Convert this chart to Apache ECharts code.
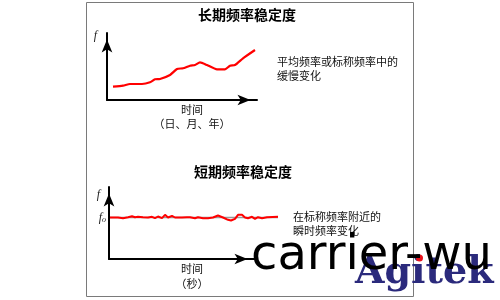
<!DOCTYPE html>
<html><head><meta charset="utf-8">
<script src="https://cdn.jsdelivr.net/npm/echarts@6/dist/echarts.min.js"></script>
<style>html,body{margin:0;padding:0;background:#fff}#c{width:500px;height:300px}</style>
</head><body><div id="c"></div>
<script>
// Long-term frequency stability (top panel): time (arbitrary units) vs frequency
const longTime = [6,16,23,35,43,48,53,63,70,76,83,88,93,100,110,118,123,128,136,148];
const longFreq = [13.3,14.3,16,16,17.7,20.7,21,25,31,31.7,34.3,35,37.7,35,30.7,30.7,34.3,35,41.7,50];

// Short-term frequency stability (bottom panel): time vs instantaneous frequency
const shortTime = [1,9,14,19,23,26,29,34,39,43,46,49,53,56,59,63,66,73,78,81,86,89,94,99,104,109,114,119,122,126,129,133,136,139,143,146,149,153,158,169];
const shortFreq = [41.5,41.5,40.8,41.8,42.8,41.8,42.2,41.8,41.5,42.2,40.8,42.5,40.8,44.2,41.5,43.2,41.5,41.5,41.8,41.8,40.8,41.8,40.8,40.8,41.5,43.5,41.5,39.2,38.5,40.2,44.2,44.2,41.5,40.8,42.2,40.2,41.8,40.8,41.8,42.2];

// Nominal frequency f0 and the time span of its reference line
const nominalF0 = 41.5;
const nominalTime = [1,169];

// Text
const titleLong = '长期频率稳定度';
const titleShort = '短期频率稳定度';
const noteLong = '平均频率或标称频率中的\n缓慢变化';
const noteShort = '在标称频率附近的\n瞬时频率变化';
const xNameLong = '时间\n（日、月、年）';
const xNameShort = '时间\n（秒）';
const yName = 'f';
const watermark1 = 'carrier-wu';
const watermark2 = 'Agitek';

const CJK = '"Noto Sans CJK SC", sans-serif';
const SERIF = '"Liberation Serif", "DejaVu Serif", serif';

const axisLineStyle = {
  show: true,
  lineStyle: { color: '#000', width: 2 },
  symbol: ['none', 'arrow'],
  symbolSize: [8, 13],
  symbolOffset: [0, -6.5]
};

function baseAxis(extra) {
  return Object.assign({
    type: 'value',
    axisLine: axisLineStyle,
    axisTick: { show: false },
    splitLine: { show: false },
    axisLabel: { show: false }
  }, extra);
}
function hiddenAxis(extra) {
  return Object.assign({
    type: 'value', show: false,
    axisLine: { show: false }, axisTick: { show: false },
    splitLine: { show: false }, axisLabel: { show: false }
  }, extra);
}

const chart = echarts.init(document.getElementById('c'), null, { renderer: 'canvas' });
chart.setOption({
  animation: false,
  backgroundColor: '#fff',
  grid: [
    { left: 107, top: 33, width: 150, height: 67 },
    { left: 109, top: 187, width: 145, height: 72 },
    { left: 109, top: 187, width: 170, height: 72 }
  ],
  xAxis: [
    baseAxis({
      gridIndex: 0, min: 0, max: 150,
      name: xNameLong, nameLocation: 'middle', nameGap: 3,
      nameTextStyle: { fontFamily: CJK, fontSize: 11, lineHeight: 14, color: '#111', padding: [0, 0, 0, 20] }
    }),
    baseAxis({
      gridIndex: 1, min: 0, max: 145,
      name: xNameShort, nameLocation: 'middle', nameGap: 2,
      nameTextStyle: { fontFamily: CJK, fontSize: 11, lineHeight: 15, color: '#111', padding: [0, 0, 0, 21] }
    }),
    hiddenAxis({ gridIndex: 2, min: 0, max: 170 })
  ],
  yAxis: [
    baseAxis({
      gridIndex: 0, min: 0, max: 67,
      name: yName, nameLocation: 'end', nameGap: -3,
      nameTextStyle: { fontFamily: SERIF, fontStyle: 'italic', fontSize: 12, color: '#222', align: 'right', verticalAlign: 'middle', padding: [0, 10, 0, 0] }
    }),
    baseAxis({
      gridIndex: 1, min: 0, max: 72, interval: nominalF0,
      name: yName, nameLocation: 'end', nameGap: -8,
      nameTextStyle: { fontFamily: SERIF, fontStyle: 'italic', fontSize: 12, color: '#222', align: 'right', verticalAlign: 'middle', padding: [0, 9, 0, 0] },
      axisLabel: {
        show: true, margin: 3,
        formatter: v => (v === nominalF0 ? '{f|f}{o|o}' : ''),
        rich: {
          f: { fontFamily: SERIF, fontStyle: 'italic', fontSize: 12, color: '#222' },
          o: { fontFamily: SERIF, fontStyle: 'italic', fontSize: 8, color: '#222', padding: [5, 0, 0, 0] }
        }
      }
    }),
    hiddenAxis({ gridIndex: 2, min: 0, max: 72 })
  ],
  series: [
    {
      type: 'line', xAxisIndex: 0, yAxisIndex: 0, clip: false,
      data: longTime.map((t, i) => [t, longFreq[i]]),
      symbol: 'none', smooth: 0.2,
      lineStyle: { color: '#f00', width: 2.2 }
    },
    {
      type: 'line', xAxisIndex: 2, yAxisIndex: 2, clip: false,
      data: nominalTime.map(t => [t, nominalF0]),
      symbol: 'none', z: 1,
      lineStyle: { color: '#999', width: 1.5 }
    },
    {
      type: 'line', xAxisIndex: 2, yAxisIndex: 2, clip: false,
      data: shortTime.map((t, i) => [t, shortFreq[i]]),
      symbol: 'none', z: 2,
      lineStyle: { color: '#f00', width: 2 }
    }
  ],
  graphic: [
    { type: 'rect', shape: { x: 86.5, y: 2.5, width: 327, height: 294 }, style: { fill: 'none', stroke: '#7a7a7a', lineWidth: 1 }, z: 0, silent: true },
    { type: 'text', x: 247, y: 15, style: { text: titleLong, font: 'bold 14px ' + CJK, fill: '#000', align: 'center', verticalAlign: 'middle' } },
    { type: 'text', x: 243, y: 172, style: { text: titleShort, font: 'bold 14px ' + CJK, fill: '#000', align: 'center', verticalAlign: 'middle' } },
    { type: 'text', x: 277, y: 55, style: { text: noteLong, font: '11px ' + CJK, lineHeight: 14, fill: '#111', align: 'left', verticalAlign: 'top' } },
    { type: 'text', x: 293, y: 210, style: { text: noteShort, font: '11px ' + CJK, lineHeight: 14, fill: '#111', align: 'left', verticalAlign: 'top' } },
    { type: 'text', x: 355, y: 273, z: 99, style: { text: watermark2, font: 'bold 38px "DejaVu Serif", serif', fill: '#2b2a7c', align: 'left', verticalAlign: 'middle' } },
    { type: 'circle', shape: { cx: 419.5, cy: 258, r: 3.5 }, z: 100, style: { fill: '#e8101a' } },
    { type: 'text', x: 251, y: 257, z: 101, style: { text: watermark1, font: '48px "DejaVu Sans", sans-serif', fill: '#000', align: 'left', verticalAlign: 'middle' } }
  ]
});
</script>
</body></html>
